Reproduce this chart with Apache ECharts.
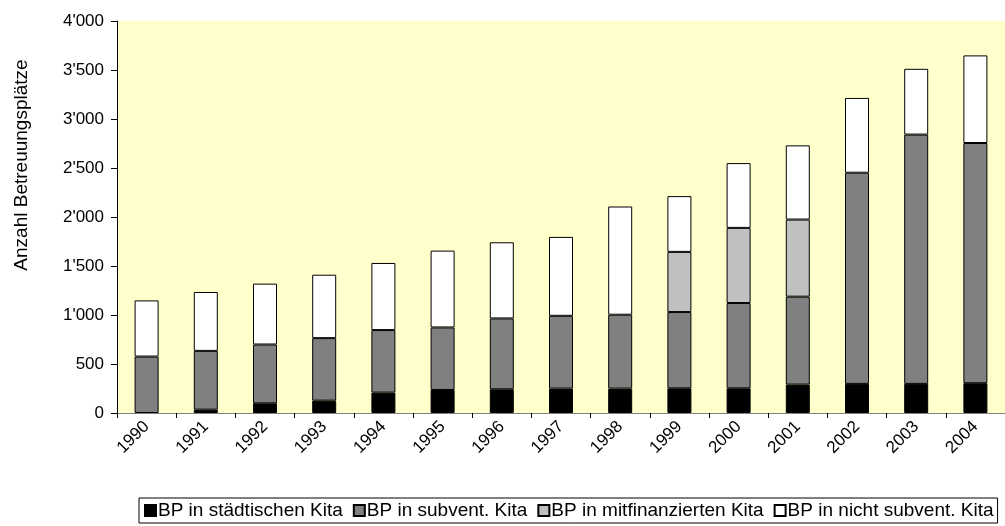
<!DOCTYPE html>
<html>
<head>
<meta charset="utf-8">
<script src="https://cdn.jsdelivr.net/npm/echarts@6/dist/echarts.min.js"></script>
<style>
html,body{margin:0;padding:0;background:#fff;}
#chart{width:1005px;height:526px;}
</style>
</head>
<body>
<div id="chart"></div>
<script>
const years = ['1990','1991','1992','1993','1994','1995','1996','1997','1998','1999','2000','2001','2002','2003','2004'];
const staedtisch   = [0, 34, 99, 126, 208, 235, 242, 249, 249, 252, 252, 290, 297, 297, 304];
const subventioniert = [576, 600, 600, 638, 638, 638, 723, 743, 754, 778, 870, 897, 2155, 2544, 2451];
const mitfinanziert = [0, 0, 0, 0, 0, 0, 0, 0, 0, 614, 767, 787, 0, 0, 0];
const nichtSubv    = [573, 601, 621, 647, 685, 784, 777, 805, 1104, 569, 661, 757, 763, 671, 894];
const seriesNames = ['BP in städtischen Kita','BP in subvent. Kita','BP in mitfinanzierten Kita','BP in nicht subvent. Kita'];
const seriesColors = ['#000000','#808080','#C0C0C0','#FFFFFF'];
const yTicks = {min:0, max:4000, interval:500};

const FONT = 'Liberation Sans, Arial, sans-serif';
const chart = echarts.init(document.getElementById('chart'));
const dataSets = [staedtisch, subventioniert, mitfinanziert, nichtSubv];
function fmt(v){ return String(v).replace(/\B(?=(\d{3})+(?!\d))/g, "'"); }

chart.setOption({
  animation:false,
  backgroundColor:'#ffffff',
  grid:{left:117, top:21, width:900, height:392, show:true, backgroundColor:'#FFFFCC', borderWidth:0},
  xAxis:{
    type:'category', data:years, boundaryGap:true,
    axisLine:{lineStyle:{color:'#808080', width:1}},
    axisTick:{show:true, length:5, lineStyle:{color:'#000'}},
    axisLabel:{rotate:45, color:'#000', fontFamily:FONT, fontSize:17, margin:11}
  },
  yAxis:{
    type:'value', min:yTicks.min, max:yTicks.max, interval:yTicks.interval,
    splitLine:{show:false},
    axisLine:{show:true, lineStyle:{color:'#000'}},
    axisTick:{show:true, length:6, lineStyle:{color:'#000'}},
    axisLabel:{color:'#000', fontFamily:FONT, fontSize:17, margin:13, formatter:fmt}
  },
  legend:{
    left:139, top:498, width:866,
    itemWidth:11, itemHeight:11, itemGap:10,
    borderColor:'#000', borderWidth:1, padding:[3,4,3,5],
    icon:'rect',
    textStyle:{color:'#000', fontFamily:FONT, fontSize:19, padding:[0,0,0,-3]},
    data:seriesNames
  },
  graphic:[{
    type:'text', x:22, y:165, rotation:Math.PI/2,
    style:{text:'Anzahl Betreuungsplätze', fill:'#000', font:'19px '+FONT, textAlign:'center', textVerticalAlign:'middle'}
  }],
  series: seriesNames.map((n,i)=>({
    name:n, type:'bar', stack:'total', barWidth:24,
    itemStyle:{color:seriesColors[i], borderColor:'#000', borderWidth:1},
    data: dataSets[i].map(v => v === 0 ? '-' : v)
  }))
});
</script>
</body>
</html>
